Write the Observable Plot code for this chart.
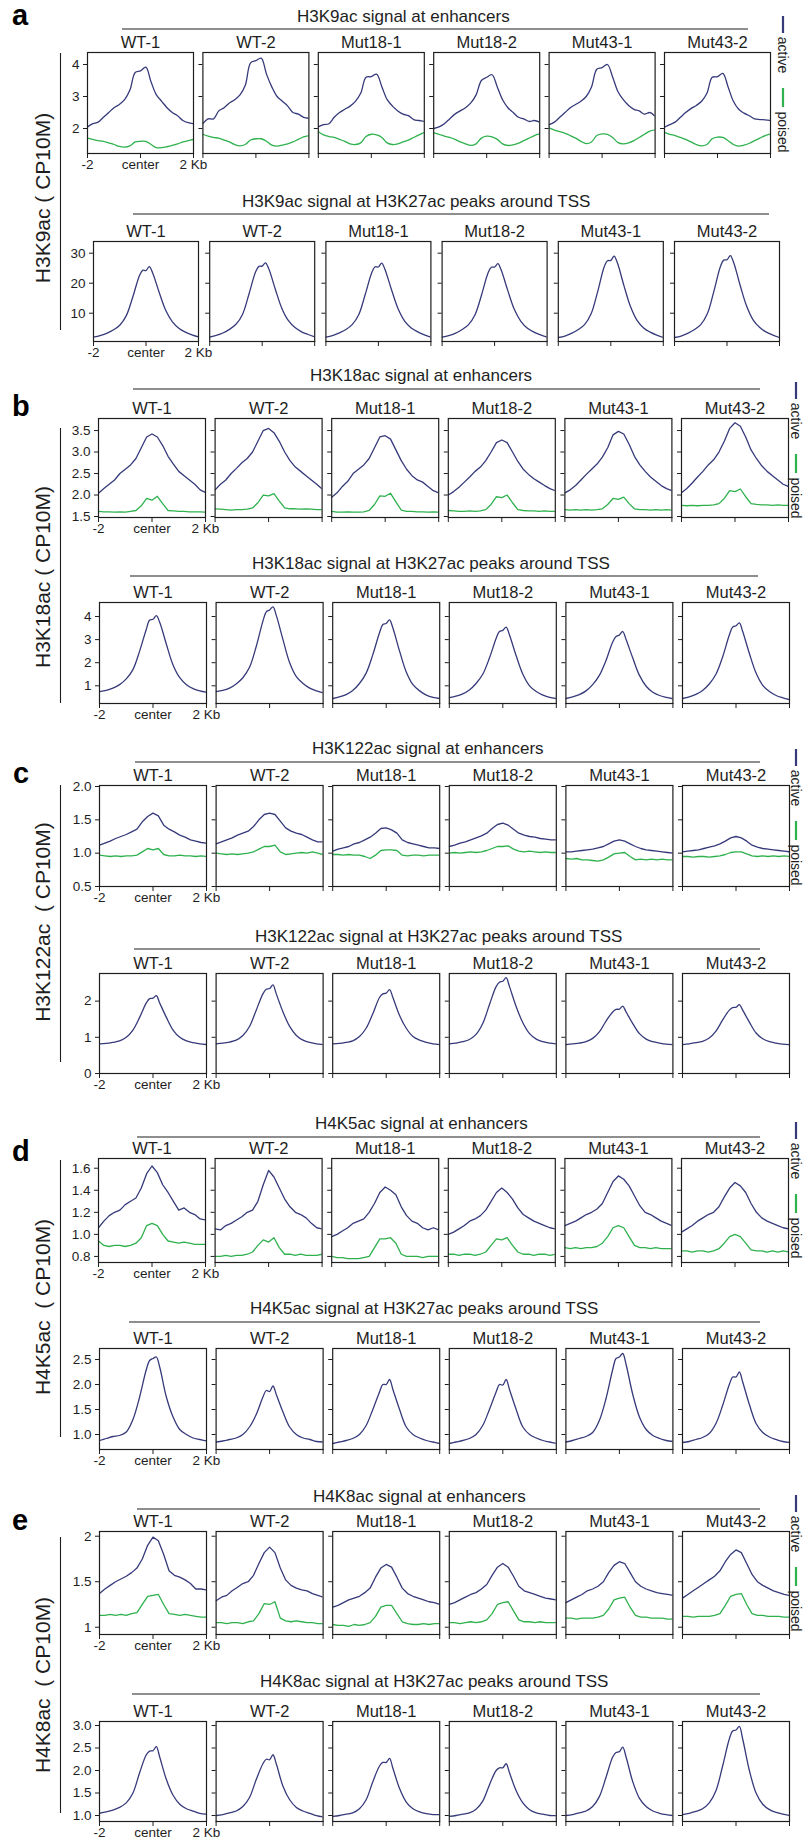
<!DOCTYPE html>
<html>
<head>
<meta charset="utf-8">
<script src="https://cdn.jsdelivr.net/npm/d3@7"></script>
<script src="https://cdn.jsdelivr.net/npm/@observablehq/plot@0.6"></script>
<style>
  html, body { margin: 0; padding: 0; background: #fff; }
  #chart { position: relative; width: 807px; height: 1842px; overflow: hidden; background: #fff; }
  #chart svg { position: absolute; left: 0; }
</style>
</head>
<body>
<div id="chart"></div>
<script>
// ---------------- DATA ----------------
const samples = ["WT-1", "WT-2", "Mut18-1", "Mut18-2", "Mut43-1", "Mut43-2"];
const seriesNames = ["active", "poised"];
// positions (kb from center)
const enhPos = [-2, -1.8, -1.6, -1.4, -1.2, -1.0, -0.8, -0.6, -0.4, -0.2, 0, 0.2, 0.4, 0.6, 0.8, 1.0, 1.2, 1.4, 1.6, 1.8, 2];
const tssPos = [-2, -1.75, -1.5, -1.25, -1, -0.75, -0.5, -0.25, -0.125, 0, 0.125, 0.25, 0.5, 0.75, 1, 1.25, 1.5, 1.75, 2];
const xTickValues = [-2, 0, 2];
const xTickLabels = ["-2", "center", "2 Kb"];

// a — H3K9ac
const H3K9ac_enh_active = [
  [2.05,2.15,2.2,2.35,2.5,2.65,2.75,2.9,3.2,3.75,3.8,3.92,3.45,3.05,2.85,2.65,2.5,2.4,2.25,2.18,2.15],
  [2.15,2.3,2.3,2.55,2.65,2.8,2.9,3.05,3.35,4.05,4.12,4.2,3.7,3.3,3.0,2.85,2.7,2.5,2.45,2.35,2.32],
  [2.05,2.12,2.15,2.35,2.5,2.6,2.7,2.85,3.1,3.6,3.62,3.7,3.3,2.9,2.7,2.55,2.45,2.4,2.28,2.25,2.22],
  [2.0,2.05,2.15,2.3,2.45,2.55,2.65,2.8,3.05,3.5,3.6,3.68,3.3,2.9,2.65,2.5,2.35,2.3,2.22,2.25,2.2],
  [2.12,2.2,2.35,2.5,2.65,2.75,2.85,3.0,3.3,3.85,3.9,4.0,3.6,3.15,2.9,2.72,2.6,2.55,2.45,2.5,2.38],
  [2.04,2.12,2.2,2.35,2.5,2.62,2.72,2.85,3.1,3.6,3.62,3.72,3.3,2.85,2.6,2.48,2.4,2.3,2.28,2.27,2.25]
];
const H3K9ac_enh_poised = [
  [1.7,1.66,1.62,1.6,1.55,1.5,1.44,1.42,1.46,1.58,1.6,1.6,1.5,1.4,1.4,1.43,1.47,1.52,1.58,1.62,1.66],
  [1.82,1.76,1.72,1.7,1.64,1.58,1.5,1.46,1.5,1.64,1.68,1.68,1.6,1.48,1.45,1.48,1.52,1.58,1.66,1.74,1.78],
  [1.9,1.8,1.75,1.72,1.66,1.6,1.52,1.5,1.55,1.75,1.82,1.8,1.72,1.55,1.5,1.52,1.58,1.64,1.72,1.8,1.88],
  [1.86,1.82,1.76,1.72,1.66,1.58,1.52,1.47,1.52,1.7,1.76,1.74,1.66,1.52,1.47,1.49,1.54,1.62,1.7,1.78,1.83],
  [2.02,1.95,1.9,1.85,1.78,1.7,1.6,1.53,1.58,1.78,1.83,1.82,1.72,1.56,1.52,1.55,1.62,1.72,1.82,1.92,1.96],
  [1.88,1.82,1.78,1.72,1.66,1.58,1.5,1.46,1.5,1.68,1.73,1.72,1.62,1.5,1.45,1.48,1.54,1.62,1.7,1.78,1.83]
];
const H3K9ac_tss = [
  [2.0,2.5,3.3,4.4,6.0,9.2,15.5,22.5,24.3,24.2,25.5,23.5,17,11,7.2,5.0,3.7,2.8,2.1],
  [2.0,2.6,3.4,4.6,6.3,9.6,16.5,23.8,25.6,25.7,26.8,24.8,18,11.6,7.5,5.2,3.8,2.9,2.1],
  [2.0,2.5,3.4,4.5,6.2,9.5,16.3,23.6,25.5,25.4,26.7,24.6,17.8,11.5,7.4,5.1,3.8,2.8,2.0],
  [2.0,2.5,3.3,4.5,6.1,9.4,16.0,23.4,25.3,25.4,26.5,24.4,17.6,11.3,7.3,5.0,3.7,2.8,2.0],
  [1.9,2.4,3.3,4.5,6.2,9.8,17.2,25.5,27.5,27.6,29.0,26.8,19.2,12.2,7.6,5.1,3.7,2.7,1.9],
  [1.9,2.4,3.3,4.5,6.2,9.8,17.3,25.6,27.7,27.8,29.2,27.0,19.3,12.3,7.7,5.2,3.7,2.7,1.9]
];

// b — H3K18ac
const H3K18ac_enh_active = [
  [2.04,2.15,2.25,2.35,2.5,2.6,2.7,2.85,3.1,3.35,3.42,3.35,3.15,2.9,2.72,2.55,2.45,2.35,2.25,2.12,2.06],
  [2.12,2.25,2.35,2.5,2.62,2.75,2.85,3.0,3.25,3.5,3.55,3.45,3.25,3.0,2.8,2.65,2.55,2.45,2.35,2.25,2.14],
  [1.95,2.05,2.2,2.32,2.5,2.6,2.7,2.85,3.1,3.35,3.38,3.3,3.05,2.8,2.6,2.45,2.35,2.3,2.2,2.1,2.05],
  [2.0,2.08,2.18,2.3,2.42,2.55,2.65,2.8,3.0,3.22,3.28,3.22,3.0,2.78,2.6,2.48,2.38,2.3,2.22,2.15,2.1],
  [2.05,2.12,2.22,2.35,2.48,2.6,2.72,2.88,3.1,3.4,3.48,3.42,3.18,2.9,2.7,2.55,2.42,2.32,2.22,2.15,2.1],
  [2.05,2.15,2.28,2.42,2.55,2.7,2.82,3.0,3.25,3.55,3.68,3.6,3.35,3.05,2.85,2.68,2.55,2.45,2.35,2.25,2.2]
];
const H3K18ac_enh_poised = [
  [1.62,1.61,1.61,1.6,1.61,1.6,1.62,1.64,1.75,1.92,1.88,1.97,1.8,1.64,1.63,1.62,1.62,1.61,1.61,1.61,1.6],
  [1.68,1.67,1.66,1.65,1.66,1.66,1.67,1.7,1.82,2.0,1.98,2.03,1.86,1.7,1.68,1.68,1.67,1.68,1.67,1.66,1.66],
  [1.62,1.6,1.6,1.61,1.6,1.6,1.61,1.64,1.78,1.98,1.97,2.04,1.84,1.65,1.62,1.62,1.61,1.61,1.6,1.61,1.6],
  [1.64,1.63,1.62,1.62,1.63,1.62,1.63,1.66,1.78,1.96,1.94,2.0,1.82,1.66,1.64,1.63,1.63,1.62,1.63,1.62,1.62],
  [1.66,1.65,1.66,1.65,1.66,1.65,1.66,1.68,1.78,1.92,1.9,1.95,1.8,1.68,1.66,1.66,1.65,1.66,1.65,1.66,1.65],
  [1.76,1.75,1.76,1.75,1.76,1.76,1.77,1.8,1.92,2.1,2.08,2.14,1.96,1.8,1.78,1.77,1.77,1.76,1.77,1.76,1.76]
];
const H3K18ac_tss = [
  [0.75,0.8,0.9,1.05,1.3,1.7,2.5,3.45,3.85,3.88,4.04,3.75,2.8,1.9,1.35,1.05,0.88,0.78,0.72],
  [0.75,0.8,0.9,1.08,1.35,1.8,2.7,3.8,4.2,4.28,4.42,4.05,3.0,2.0,1.4,1.1,0.9,0.78,0.7],
  [0.45,0.52,0.62,0.8,1.1,1.55,2.35,3.3,3.65,3.7,3.85,3.5,2.5,1.6,1.05,0.78,0.6,0.5,0.45],
  [0.49,0.55,0.65,0.82,1.1,1.5,2.2,3.05,3.35,3.4,3.54,3.2,2.3,1.5,1.0,0.75,0.6,0.5,0.45],
  [0.45,0.52,0.62,0.78,1.05,1.45,2.1,2.9,3.13,3.2,3.35,3.0,2.2,1.45,0.98,0.72,0.58,0.5,0.44],
  [0.45,0.52,0.63,0.8,1.08,1.5,2.25,3.2,3.54,3.6,3.72,3.35,2.4,1.55,1.02,0.75,0.58,0.48,0.4]
];

// c — H3K122ac
const H3K122ac_enh_active = [
  [1.12,1.15,1.18,1.22,1.25,1.28,1.32,1.36,1.47,1.55,1.6,1.56,1.42,1.36,1.32,1.27,1.24,1.2,1.18,1.16,1.15],
  [1.14,1.17,1.2,1.23,1.27,1.3,1.33,1.4,1.5,1.58,1.6,1.58,1.48,1.38,1.33,1.3,1.28,1.24,1.2,1.17,1.17],
  [1.03,1.06,1.08,1.1,1.14,1.16,1.2,1.24,1.3,1.37,1.38,1.35,1.3,1.2,1.16,1.14,1.12,1.1,1.08,1.08,1.07],
  [1.1,1.12,1.15,1.17,1.2,1.23,1.26,1.3,1.37,1.43,1.45,1.42,1.36,1.3,1.27,1.25,1.24,1.22,1.21,1.2,1.2],
  [1.02,1.02,1.03,1.04,1.05,1.06,1.08,1.1,1.14,1.18,1.2,1.18,1.14,1.1,1.07,1.05,1.04,1.03,1.02,1.01,1.0],
  [1.02,1.03,1.04,1.05,1.07,1.09,1.11,1.14,1.18,1.23,1.25,1.23,1.18,1.12,1.09,1.07,1.06,1.05,1.04,1.03,1.02]
];
const H3K122ac_enh_poised = [
  [0.97,0.96,0.95,0.96,0.95,0.96,0.96,0.97,1.02,1.07,1.05,1.07,0.98,0.96,0.96,0.97,0.96,0.96,0.95,0.96,0.95],
  [1.0,0.99,0.98,0.99,0.98,0.99,1.0,1.02,1.06,1.1,1.1,1.12,1.02,0.98,0.99,1.0,1.01,1.0,1.02,1.0,0.98],
  [0.98,0.98,0.97,0.98,0.97,0.97,0.95,0.92,0.97,1.04,1.05,1.05,1.04,0.97,0.96,0.97,0.97,0.96,0.97,0.97,0.97],
  [1.0,1.01,1.0,1.01,1.02,1.01,1.02,1.04,1.07,1.1,1.1,1.11,1.06,1.03,1.02,1.03,1.02,1.01,1.02,1.01,1.01],
  [0.92,0.91,0.92,0.9,0.9,0.89,0.88,0.9,0.94,0.99,1.0,1.01,0.95,0.9,0.91,0.9,0.91,0.9,0.91,0.9,0.9],
  [0.95,0.95,0.94,0.95,0.95,0.94,0.95,0.96,0.98,1.01,1.02,1.02,0.99,0.96,0.95,0.96,0.95,0.96,0.95,0.96,0.95]
];
const H3K122ac_tss = [
  [0.82,0.83,0.86,0.9,1.0,1.2,1.55,1.95,2.07,2.08,2.15,1.95,1.55,1.2,1.0,0.9,0.85,0.82,0.8],
  [0.82,0.84,0.87,0.92,1.05,1.3,1.75,2.2,2.33,2.35,2.45,2.2,1.7,1.3,1.05,0.92,0.86,0.82,0.8],
  [0.82,0.83,0.86,0.9,1.02,1.25,1.65,2.1,2.2,2.22,2.32,2.1,1.6,1.25,1.02,0.92,0.86,0.82,0.8],
  [0.82,0.84,0.88,0.94,1.08,1.38,1.9,2.4,2.52,2.55,2.65,2.4,1.85,1.4,1.1,0.95,0.88,0.84,0.82],
  [0.8,0.82,0.84,0.88,0.97,1.15,1.45,1.7,1.77,1.78,1.86,1.7,1.38,1.1,0.95,0.88,0.84,0.81,0.8],
  [0.8,0.82,0.85,0.89,0.98,1.17,1.48,1.75,1.82,1.83,1.9,1.75,1.42,1.12,0.96,0.88,0.84,0.81,0.8]
];

// d — H4K5ac
const H4K5ac_enh_active = [
  [1.06,1.12,1.17,1.2,1.22,1.27,1.3,1.33,1.42,1.55,1.62,1.56,1.45,1.38,1.3,1.22,1.24,1.2,1.18,1.14,1.13],
  [1.05,1.04,1.08,1.1,1.13,1.16,1.2,1.22,1.3,1.45,1.58,1.52,1.42,1.32,1.25,1.2,1.18,1.15,1.1,1.06,1.05],
  [0.98,1.0,1.03,1.06,1.1,1.12,1.14,1.2,1.28,1.38,1.43,1.4,1.36,1.25,1.17,1.12,1.1,1.06,1.04,1.06,1.04],
  [1.0,1.02,1.05,1.08,1.12,1.14,1.17,1.22,1.3,1.38,1.42,1.38,1.32,1.24,1.18,1.15,1.12,1.1,1.08,1.06,1.05],
  [1.08,1.1,1.12,1.15,1.18,1.2,1.23,1.28,1.38,1.48,1.53,1.5,1.44,1.35,1.26,1.2,1.18,1.15,1.12,1.1,1.08],
  [1.02,1.05,1.08,1.12,1.15,1.18,1.2,1.25,1.34,1.42,1.47,1.44,1.38,1.28,1.2,1.15,1.12,1.1,1.08,1.06,1.05]
];
const H4K5ac_enh_poised = [
  [0.94,0.9,0.89,0.9,0.9,0.89,0.9,0.92,0.97,1.08,1.1,1.08,1.0,0.94,0.93,0.92,0.93,0.92,0.91,0.91,0.91],
  [0.8,0.8,0.81,0.8,0.81,0.81,0.82,0.84,0.9,0.95,0.93,0.97,0.88,0.82,0.82,0.81,0.82,0.81,0.81,0.81,0.82],
  [0.8,0.79,0.79,0.78,0.78,0.78,0.79,0.8,0.88,0.96,0.96,0.97,0.92,0.82,0.8,0.8,0.8,0.79,0.8,0.8,0.8],
  [0.82,0.82,0.81,0.82,0.82,0.81,0.82,0.84,0.9,0.96,0.95,0.97,0.9,0.84,0.82,0.82,0.81,0.82,0.82,0.81,0.82],
  [0.88,0.87,0.88,0.87,0.88,0.88,0.89,0.92,0.98,1.06,1.08,1.06,0.98,0.9,0.88,0.88,0.87,0.88,0.87,0.87,0.87],
  [0.85,0.85,0.84,0.85,0.85,0.84,0.85,0.87,0.92,0.98,1.0,0.98,0.92,0.86,0.85,0.85,0.84,0.85,0.84,0.85,0.84]
];
const H4K5ac_tss = [
  [0.88,0.92,0.96,0.98,1.05,1.3,1.75,2.3,2.48,2.52,2.55,2.35,1.75,1.35,1.1,1.0,0.93,0.9,0.87],
  [0.85,0.87,0.9,0.93,1.0,1.15,1.4,1.75,1.88,1.86,1.97,1.8,1.45,1.15,1.0,0.93,0.9,0.86,0.85],
  [0.82,0.85,0.88,0.92,1.0,1.18,1.5,1.85,2.0,2.0,2.1,1.9,1.5,1.15,1.0,0.93,0.88,0.85,0.82],
  [0.82,0.85,0.88,0.92,1.0,1.18,1.5,1.85,2.0,1.99,2.1,1.9,1.5,1.15,1.0,0.93,0.88,0.85,0.82],
  [0.85,0.88,0.92,0.96,1.04,1.28,1.72,2.3,2.52,2.55,2.62,2.4,1.8,1.35,1.1,0.98,0.92,0.88,0.86],
  [0.84,0.86,0.9,0.94,1.02,1.22,1.58,2.0,2.15,2.15,2.25,2.05,1.6,1.22,1.04,0.95,0.9,0.86,0.84]
];

// e — H4K8ac
const H4K8ac_enh_active = [
  [1.37,1.42,1.46,1.5,1.53,1.56,1.6,1.65,1.75,1.9,1.99,1.95,1.8,1.62,1.57,1.55,1.52,1.48,1.42,1.42,1.41],
  [1.29,1.33,1.35,1.4,1.44,1.48,1.5,1.57,1.7,1.82,1.88,1.82,1.65,1.52,1.46,1.43,1.41,1.4,1.37,1.35,1.33],
  [1.22,1.24,1.27,1.3,1.32,1.34,1.38,1.43,1.55,1.65,1.69,1.66,1.55,1.43,1.37,1.34,1.32,1.3,1.28,1.27,1.25],
  [1.25,1.27,1.3,1.33,1.36,1.38,1.42,1.47,1.57,1.66,1.7,1.66,1.56,1.45,1.4,1.38,1.36,1.34,1.32,1.31,1.3],
  [1.27,1.3,1.33,1.36,1.4,1.42,1.45,1.5,1.6,1.68,1.72,1.7,1.6,1.5,1.45,1.42,1.4,1.38,1.37,1.36,1.35],
  [1.32,1.36,1.4,1.44,1.48,1.52,1.56,1.62,1.72,1.8,1.85,1.82,1.7,1.58,1.5,1.46,1.43,1.4,1.38,1.36,1.35]
];
const H4K8ac_enh_poised = [
  [1.13,1.13,1.14,1.13,1.14,1.13,1.15,1.16,1.25,1.34,1.35,1.36,1.25,1.15,1.14,1.13,1.14,1.13,1.12,1.11,1.11],
  [1.05,1.05,1.04,1.05,1.05,1.04,1.06,1.07,1.15,1.26,1.25,1.28,1.1,1.07,1.06,1.07,1.06,1.05,1.05,1.04,1.04],
  [1.03,1.02,1.02,1.01,1.03,1.02,1.03,1.05,1.12,1.22,1.24,1.24,1.15,1.06,1.04,1.03,1.03,1.04,1.03,1.04,1.04],
  [1.05,1.05,1.04,1.05,1.06,1.05,1.06,1.08,1.15,1.25,1.27,1.28,1.18,1.08,1.06,1.06,1.05,1.06,1.05,1.05,1.05],
  [1.1,1.1,1.09,1.1,1.1,1.1,1.11,1.13,1.2,1.3,1.32,1.33,1.22,1.13,1.11,1.11,1.1,1.1,1.1,1.09,1.09],
  [1.12,1.12,1.11,1.12,1.12,1.12,1.13,1.15,1.24,1.34,1.36,1.37,1.25,1.15,1.13,1.13,1.12,1.12,1.12,1.11,1.11]
];
const H4K8ac_tss = [
  [1.05,1.08,1.12,1.18,1.28,1.5,1.95,2.35,2.43,2.44,2.53,2.3,1.8,1.45,1.25,1.15,1.1,1.05,1.03],
  [1.0,1.02,1.06,1.1,1.2,1.4,1.8,2.15,2.25,2.24,2.35,2.15,1.65,1.35,1.18,1.1,1.05,1.0,0.97],
  [0.98,1.0,1.03,1.06,1.15,1.35,1.75,2.1,2.18,2.18,2.27,2.05,1.6,1.3,1.15,1.08,1.04,1.02,1.02],
  [0.98,1.0,1.03,1.06,1.14,1.32,1.68,2.0,2.06,2.06,2.15,1.95,1.55,1.28,1.13,1.06,1.03,1.0,1.0],
  [1.0,1.02,1.06,1.1,1.2,1.42,1.85,2.3,2.4,2.42,2.52,2.3,1.75,1.38,1.2,1.1,1.05,1.02,1.0],
  [1.02,1.05,1.09,1.15,1.28,1.55,2.1,2.7,2.88,2.9,2.98,2.7,2.0,1.5,1.25,1.13,1.07,1.03,1.0]
];

// tick values per panel row
const ticksA1 = [2, 3, 4], ticksA2 = [10, 20, 30];
const ticksB1 = [1.5, 2.0, 2.5, 3.0, 3.5], ticksB2 = [1, 2, 3, 4];
const ticksC1 = [0.5, 1.0, 1.5, 2.0], ticksC2 = [0, 1, 2];
const ticksD1 = [0.8, 1.0, 1.2, 1.4, 1.6], ticksD2 = [1.0, 1.5, 2.0, 2.5];
const ticksE1 = [1, 1.5, 2], ticksE2 = [1.0, 1.5, 2.0, 2.5, 3.0];

// ---------------- LAYOUT ----------------
const W = 807;
const BLUE = "#363a7a", GREEN = "#2fb14e", INK = "#1e1e1e";
const FONT = "'Liberation Sans', Arial, Helvetica, sans-serif";
const f0 = d3.format(""), f1 = d3.format(".1f");

const rows = [
  {top: 52,   bottom: 153,  left: 87, step: 115.4, bw: 106, domain: [1.219, 4.375], ticks: ticksA1, fmt: f0, pos: enhPos, curve: "catmull-rom", active: H3K9ac_enh_active, poised: H3K9ac_enh_poised},
  {top: 241,  bottom: 341,  left: 93, step: 116.2, bw: 105, domain: [0.57, 33.9],   ticks: ticksA2, fmt: f0, pos: tssPos, curve: "catmull-rom", active: H3K9ac_tss},
  {top: 418,  bottom: 517,  left: 98, step: 116.6, bw: 107, domain: [1.477, 3.78],  ticks: ticksB1, fmt: f1, pos: enhPos, curve: "linear", active: H3K18ac_enh_active, poised: H3K18ac_enh_poised},
  {top: 602,  bottom: 703,  left: 99, step: 116.6, bw: 107, domain: [0.234, 4.606], ticks: ticksB2, fmt: f0, pos: tssPos, curve: "catmull-rom", active: H3K18ac_tss},
  {top: 785,  bottom: 886,  left: 99, step: 116.6, bw: 107, domain: [0.5, 2.015],   ticks: ticksC1, fmt: f1, pos: enhPos, curve: "linear", active: H3K122ac_enh_active, poised: H3K122ac_enh_poised},
  {top: 973,  bottom: 1073, left: 99, step: 116.6, bw: 107, domain: [0, 2.763],     ticks: ticksC2, fmt: f0, pos: tssPos, curve: "catmull-rom", active: H3K122ac_tss},
  {top: 1158, bottom: 1262, left: 98, step: 116.6, bw: 107, domain: [0.745, 1.688], ticks: ticksD1, fmt: f1, pos: enhPos, curve: "linear", active: H4K5ac_enh_active, poised: H4K5ac_enh_poised},
  {top: 1348, bottom: 1449, left: 99, step: 116.6, bw: 107, domain: [0.70, 2.72],   ticks: ticksD2, fmt: f1, pos: tssPos, curve: "catmull-rom", active: H4K5ac_tss},
  {top: 1531, bottom: 1634, left: 99, step: 116.6, bw: 107, domain: [0.92, 2.052],  ticks: ticksE1, fmt: f0, pos: enhPos, curve: "linear", active: H4K8ac_enh_active, poised: H4K8ac_enh_poised},
  {top: 1721, bottom: 1821, left: 99, step: 116.6, bw: 107, domain: [0.867, 3.089], ticks: ticksE2, fmt: f1, pos: tssPos, curve: "catmull-rom", active: H4K8ac_tss}
];

const chart = document.getElementById("chart");

function drawRow(r) {
  const recs = [];
  samples.forEach((s, i) => {
    r.active[i].forEach((v, j) => recs.push({sample: s, pos: r.pos[j], value: v, series: "active"}));
    if (r.poised) r.poised[i].forEach((v, j) => recs.push({sample: s, pos: r.pos[j], value: v, series: "poised"}));
  });
  const mt = 30, mb = 30;
  const p = 1 - r.bw / r.step;
  const right = r.left + 5 * r.step + r.bw;
  const svg = Plot.plot({
    width: W,
    height: (r.bottom - r.top) + mt + mb,
    marginTop: mt, marginBottom: mb, marginLeft: r.left, marginRight: W - right,
    style: {fontFamily: FONT, fontSize: "13.5px", color: INK, background: "transparent", overflow: "visible"},
    fx: {domain: samples, paddingInner: p, paddingOuter: 0, round: false, axis: null, label: null},
    x: {domain: [-2, 2], axis: null, label: null},
    y: {domain: r.domain, axis: null, label: null},
    color: {domain: seriesNames, range: [BLUE, GREEN]},
    marks: [
      Plot.line(recs, {fx: "sample", x: "pos", y: "value", z: "series", stroke: "series", strokeWidth: 1.3, curve: r.curve, clip: true}),
      Plot.frame({stroke: INK, strokeWidth: 1.2}),
      Plot.axisFx({anchor: "top", tickSize: 0, tickPadding: 5, fontSize: 16.5, label: null, fill: INK}),
      Plot.axisY(r.ticks, {facetAnchor: null, tickSize: 4, fill: "none", stroke: INK, label: null}),
      Plot.axisY(r.ticks, {tickSize: 0, tickPadding: 8, tickFormat: r.fmt, label: null, fontSize: 13.5, fill: INK}),
      Plot.axisX(xTickValues, {facetAnchor: null, tickSize: 5, fill: "none", stroke: INK, label: null}),
      Plot.axisX(xTickValues, {facetAnchor: "left", tickSize: 0, tickPadding: 6, tickFormat: d => xTickLabels[xTickValues.indexOf(d)], label: null, fontSize: 13.5, fill: INK})
    ]
  });
  svg.style.top = (r.top - mt) + "px";
  chart.appendChild(svg);
}
rows.forEach(drawRow);

// ---------------- DECORATIONS ----------------
const titles = [
  {t: "H3K9ac signal at enhancers", x: 297, y: 21.5, x1: 122, x2: 748, ly: 29},
  {t: "H3K9ac signal at H3K27ac peaks around TSS", x: 242, y: 207, x1: 133, x2: 769, ly: 214},
  {t: "H3K18ac signal at enhancers", x: 310, y: 381, x1: 133, x2: 760, ly: 389},
  {t: "H3K18ac signal at H3K27ac peaks around TSS", x: 252, y: 569, x1: 130, x2: 758, ly: 576},
  {t: "H3K122ac signal at enhancers", x: 312, y: 754, x1: 135, x2: 760, ly: 762},
  {t: "H3K122ac signal at H3K27ac peaks around TSS", x: 255, y: 942, x1: 134, x2: 760, ly: 949},
  {t: "H4K5ac signal at enhancers", x: 315, y: 1129, x1: 137, x2: 760, ly: 1137},
  {t: "H4K5ac signal at H3K27ac peaks around TSS", x: 250, y: 1314, x1: 129, x2: 760, ly: 1322},
  {t: "H4K8ac signal at enhancers", x: 313, y: 1502, x1: 137, x2: 760, ly: 1509},
  {t: "H4K8ac signal at H3K27ac peaks around TSS", x: 260, y: 1687, x1: 132, x2: 760, ly: 1694}
];
const panelLetters = [
  {t: "a", x: 12, y: 25}, {t: "b", x: 12, y: 416}, {t: "c", x: 13, y: 783},
  {t: "d", x: 12, y: 1161}, {t: "e", x: 12, y: 1530}
];
const yLabels = [
  {t: "H3K9ac ( CP10M)", cy: 198, y1: 53, y2: 330},
  {t: "H3K18ac ( CP10M)", cy: 577, y1: 428, y2: 703},
  {t: "H3K122ac  ( CP10M)", cy: 922, y1: 785, y2: 1062},
  {t: "H4K5ac  ( CP10M)", cy: 1307, y1: 1160, y2: 1437},
  {t: "H4K8ac  ( CP10M)", cy: 1685, y1: 1537, y2: 1813}
];
const legends = [
  {x: 783, top: 52}, {x: 796, top: 418}, {x: 796, top: 785}, {x: 796, top: 1158}, {x: 796, top: 1531}
];

const ov = d3.select(chart).append("svg")
  .attr("width", W).attr("height", 1842)
  .style("top", "0px").style("pointer-events", "none")
  .style("font-family", FONT).attr("fill", INK);

titles.forEach(d => {
  ov.append("text").attr("x", d.x).attr("y", d.y).attr("font-size", 17).text(d.t);
  ov.append("line").attr("x1", d.x1).attr("x2", d.x2).attr("y1", d.ly).attr("y2", d.ly)
    .attr("stroke", INK).attr("stroke-width", 1.1);
});
panelLetters.forEach(d => {
  ov.append("text").attr("x", d.x).attr("y", d.y).attr("font-size", 29).attr("font-weight", "bold").attr("fill", "#000").text(d.t);
});
yLabels.forEach(d => {
  ov.append("line").attr("x1", 60.5).attr("x2", 60.5).attr("y1", d.y1).attr("y2", d.y2).attr("stroke", INK).attr("stroke-width", 1.1);
  ov.append("text").attr("transform", `translate(42,${d.cy}) rotate(-90)`)
    .attr("text-anchor", "middle").attr("dominant-baseline", "central")
    .attr("font-size", 21).style("white-space", "pre").attr("xml:space", "preserve").text(d.t);
});
legends.forEach(d => {
  ov.append("line").attr("x1", d.x).attr("x2", d.x).attr("y1", d.top - 36).attr("y2", d.top - 19).attr("stroke", BLUE).attr("stroke-width", 2.2);
  ov.append("text").attr("transform", `translate(${d.x},${d.top + 3}) rotate(90)`)
    .attr("text-anchor", "middle").attr("dominant-baseline", "central").attr("font-size", 14).text("active");
  ov.append("line").attr("x1", d.x).attr("x2", d.x).attr("y1", d.top + 36).attr("y2", d.top + 55).attr("stroke", GREEN).attr("stroke-width", 2.2);
  ov.append("text").attr("transform", `translate(${d.x},${d.top + 80}) rotate(90)`)
    .attr("text-anchor", "middle").attr("dominant-baseline", "central").attr("font-size", 14).text("poised");
});
</script>
</body>
</html>
